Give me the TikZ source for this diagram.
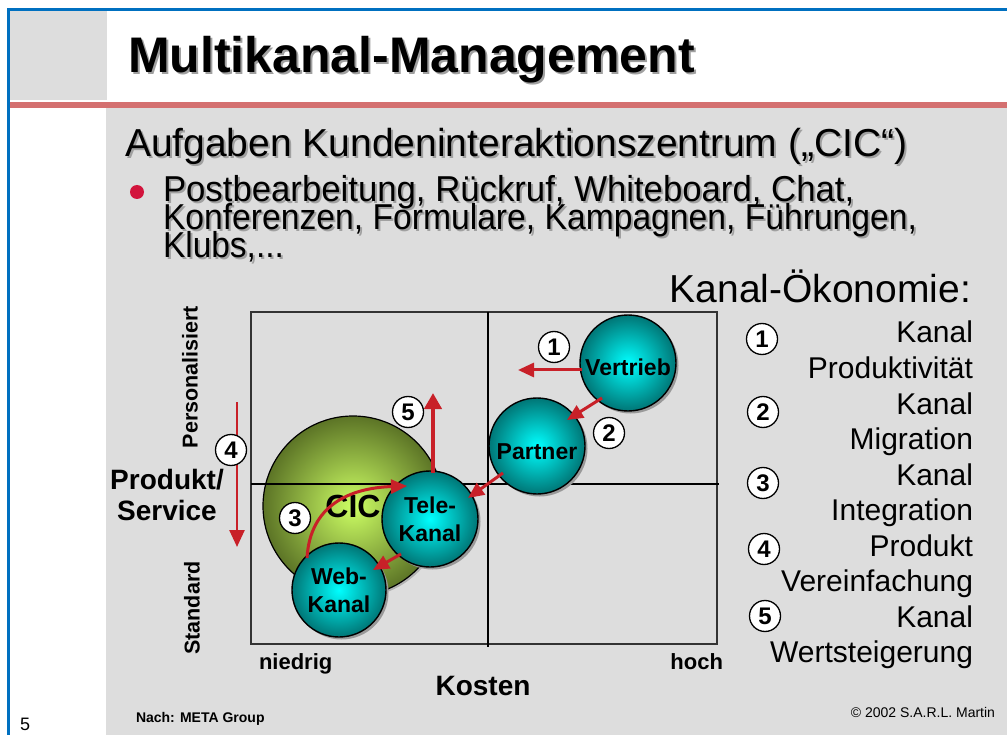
\documentclass[tikz,border=0pt]{standalone}
\usepackage{fontspec}
\setmainfont{Liberation Sans}
\usetikzlibrary{arrows.meta,shadows,calc}

\definecolor{panel}{RGB}{221,221,221}
\definecolor{frameblue}{RGB}{0,112,192}
\definecolor{rulered}{RGB}{212,112,112}
\definecolor{arrowred}{RGB}{200,32,40}
\definecolor{dotred}{RGB}{210,20,60}
\definecolor{tealout}{RGB}{0,118,118}
\definecolor{tealin}{RGB}{0,255,255}
\definecolor{oliveout}{RGB}{92,116,38}
\definecolor{limein}{RGB}{205,255,100}
\definecolor{textshade}{RGB}{160,160,160}

\newcommand{\fsz}[2]{\fontsize{#1}{#2}\selectfont}
% text drawn twice: a grey copy offset down-right, then the black text
\newcommand{\shadowline}[5]{%
  \node[plain, anchor=base west, font=#2, text=textshade, xscale=#5] (#1-sh) at ($(#3)+(2,2)$) {#4};
  \node[plain, anchor=base west, font=#2, xscale=#5] (#1) at (#3) {#4};}

\tikzset{
  bubble/.style={circle, draw=black, line width=1.4pt, inner sep=0pt,
    inner color=tealin, outer color=tealout, align=center,
    font=\bfseries\fsz{23}{28},
    drop shadow={shadow xshift=2.5pt, shadow yshift=-2.5pt, fill=black!40, opacity=1}},
  bigbubble/.style={circle, draw=black, line width=1.2pt, inner sep=0pt,
    inner color=limein, outer color=oliveout, font=\bfseries\fsz{32}{32},
    drop shadow={shadow xshift=2pt, shadow yshift=-2pt, fill=black!30, opacity=1}},
  badge/.style={circle, draw=black, line width=1.3pt, fill=white,
    minimum size=31pt, inner sep=0pt, font=\bfseries\fsz{24}{24}},
  redarrow/.style={draw=arrowred, line width=3pt,
    -{Triangle[length=16pt,width=14pt]}, color=arrowred},
  axisline/.style={draw=black, line width=1.8pt},
  plain/.style={inner sep=0pt, outer sep=0pt},
}

\begin{document}
\begin{tikzpicture}[x=1pt,y=-1pt]
\useasboundingbox (0,0) rectangle (1007,735);

% page background, panels and frame
\fill[white] (0,0) rectangle (1007,735);
\fill[panel] (106,108) rectangle (1007,735);
\fill[panel] (10,11) rectangle (107,100);
\fill[rulered] (10,102) rectangle (1007,108);
\draw[frameblue, line width=3pt] (8.5,735) -- (8.5,9.5) -- (1007,9.5);

% title, subtitle and bullet item with shadows
\shadowline{title}{\bfseries\fsz{50}{60}}{128,73}{Multikanal-Management}{1}
\shadowline{sub}{\fsz{39}{45}}{125,157}{Aufgaben Kundeninteraktionszentrum („CIC“)}{1}
\fill[dotred] (137,192) circle (7pt);
\shadowline{bl0}{\fsz{36}{36}}{163,202}{Postbearbeitung, Rückruf, Whiteboard, Chat,}{0.965}
\shadowline{bl1}{\fsz{36}{36}}{163,230}{Konferenzen, Formulare, Kampagnen, Führungen,}{0.935}
\shadowline{bl2}{\fsz{36}{36}}{163,258}{Klubs,...}{0.93}

% legend
\node[plain, anchor=base east, font=\fsz{39}{45}] (oek) at (971,303) {Kanal-Ökonomie:};
\foreach \t [count=\i from 0] in {Kanal,Produktivität,Kanal,Migration,Kanal,Integration,Produkt,Vereinfachung,Kanal,Wertsteigerung}
  \node[plain, anchor=base east, font=\fsz{30}{30}] (leg\i) at (973,{343+35.5*\i}) {\t};
\node[badge] (l1) at (762,339) {1};
\node[badge] (l2) at (763,412) {2};
\node[badge] (l3) at (763,483) {3};
\node[badge] (l4) at (764,549) {4};
\node[badge] (l5) at (765,616) {5};

% axis labels
\node[plain, rotate=90, font=\bfseries\fsz{21.5}{21.5}] (pers) at (190,377) {Personalisiert};
\node[plain, rotate=90, font=\bfseries\fsz{21.5}{21.5}] (std) at (192,608) {Standard};
\node[plain, align=center, font=\bfseries\fsz{28}{31}] (prod) at (167,495) {Produkt/\\Service};
\node[plain, anchor=base west, font=\bfseries\fsz{22}{22}] (low) at (259,669) {niedrig};
\node[plain, anchor=base east, font=\bfseries\fsz{22}{22}] (high) at (723,669) {hoch};
\node[plain, anchor=base, font=\bfseries\fsz{28}{28}] (cost) at (483,695) {Kosten};

% footer
\node[plain, anchor=base west, font=\bfseries\fsz{14}{14}] (src) at (136,722) {Nach: META Group};
\node[plain, anchor=base east, font=\fsz{14}{14}] (copy) at (995,717) {© 2002 S.A.R.L. Martin};
\node[plain, anchor=base west, font=\fsz{18}{18}] (pageno) at (20,730) {5};

% portfolio frame
\draw[black!80, line width=1.4pt] (251,312) rectangle (717,644);

% CIC bubble
\node[bigbubble, minimum size=180pt] (cic) at (353,506) {CIC};

% quadrant axes
\draw[axisline] (251,484) -- (719,484);
\draw[axisline] (488,312) -- (488,647);

% channel bubbles (taller text box sets the labels a little below centre)
\node[bubble, minimum size=96pt, text height=26pt, text depth=0pt] (vertrieb) at (628,363) {Vertrieb};
\node[bubble, minimum size=96pt, text height=26pt, text depth=0pt] (partner) at (537,446) {Partner};
\node[bubble, minimum size=96pt] (tele) at (430,519) {Tele-\\Kanal};
\node[bubble, minimum size=94pt] (web) at (339,590) {Web-\\Kanal};

% arrows
\coordinate (a1end) at (518,370);
\coordinate (a5end) at (433,393);
\coordinate (a4start) at (237,402);
\coordinate (a4end) at (237,547);

\draw[redarrow] ($(vertrieb.center)+(-46,7)$) -- (a1end);
\draw[redarrow] ($(vertrieb.center)+(-26,35)$) -- ($(partner.center)+(30,-26)$);
\draw[redarrow] ($(partner.center)+(-34,27)$) -- ($(tele.center)+(38,-21)$);
\draw[redarrow] ($(tele.center)+(-29,35)$) -- ($(web.center)+(34,-20)$);
\draw[redarrow, line width=4.5pt, -{Triangle[length=16pt,width=17pt]}] ($(tele.center)+(3,-46)$) -- (a5end);
\draw[redarrow] ($(web.center)+(-32,-32)$) .. controls (310,505) and (350,488) .. ($(tele.center)+(-23,-33)$);
\draw[redarrow, line width=2.5pt, -{Triangle[length=17pt,width=15pt]}] (a4start) -- (a4end);

% numbered badges in the chart
\node[badge] (b1) at (554,347) {1};
\node[badge] (b2) at (609,433) {2};
\node[badge] (b3) at (295,518) {3};
\node[badge] (b4) at (231,450) {4};
\node[badge] (b5) at (408,412) {5};
\end{tikzpicture}
\end{document}
